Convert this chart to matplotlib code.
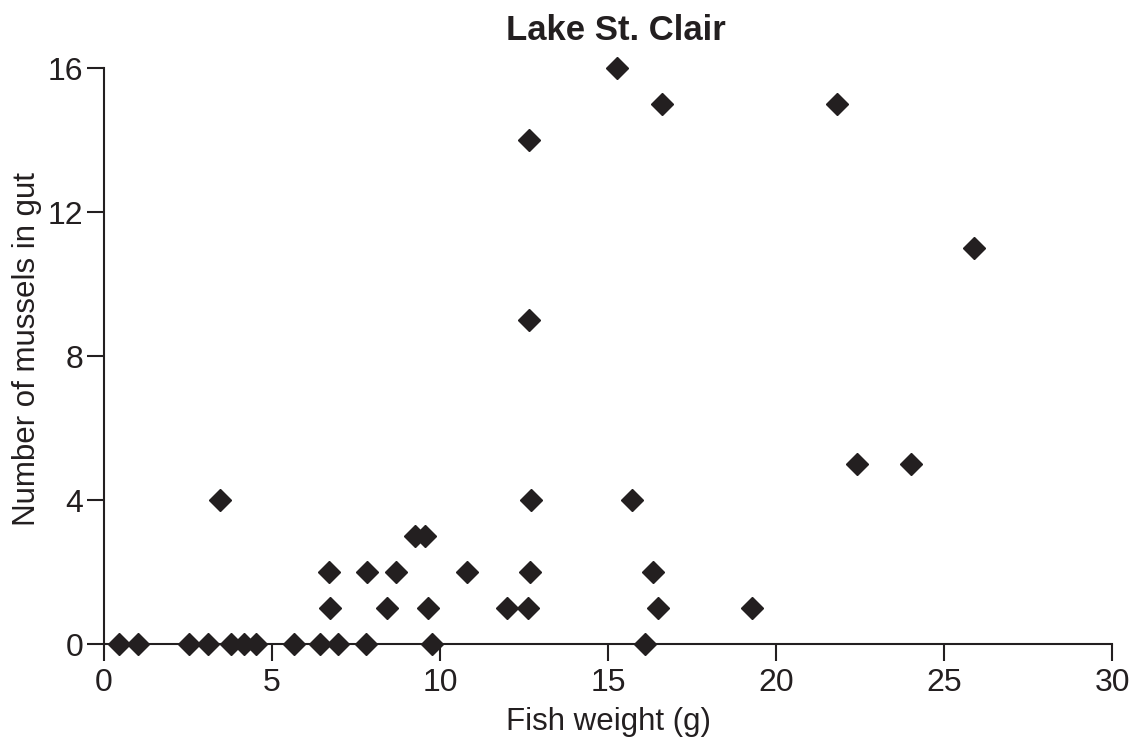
import matplotlib
matplotlib.use('Agg')
import matplotlib.pyplot as plt

# fish weight (g) and mussel count
weight = [0.46, 1.02, 2.53, 3.08, 3.78, 4.16, 4.53, 5.64, 6.44, 6.96, 7.80, 9.75, 16.1,
          3.44,
          9.25, 9.55,
          6.69, 7.84, 8.69, 10.8, 12.67, 16.33,
          6.74, 8.43, 9.65, 11.99, 12.62, 16.48, 19.27,
          12.7, 15.72,
          22.42, 24.03,
          12.66, 25.88,
          12.66, 15.28, 16.6, 21.82]
mussels = [0, 0, 0, 0, 0, 0, 0, 0, 0, 0, 0, 0, 0,
           4,
           3, 3,
           2, 2, 2, 2, 2, 2,
           1, 1, 1, 1, 1, 1, 1,
           4, 4,
           5, 5,
           9, 11,
           14, 16, 15, 15]

xticks = [0, 5, 10, 15, 20, 25, 30]
yticks = [0, 4, 8, 12, 16]

plt.rcParams['font.family'] = ['Liberation Sans', 'DejaVu Sans']
ink = '#231f20'

fig = plt.figure(figsize=(11.38, 7.44), dpi=100)
ax = fig.add_axes([0.0914, 0.1344, 0.8858, 0.7742])

ax.plot(weight, mussels, linestyle='none', marker='D', markersize=10.8,
        color=ink, clip_on=False, zorder=3)

ax.set_xlim(0, 30)
ax.set_ylim(0, 16)
ax.set_xticks(xticks)
ax.set_yticks(yticks)

for s in ['top', 'right']:
    ax.spines[s].set_visible(False)
for s in ['left', 'bottom']:
    ax.spines[s].set_linewidth(1.5)
    ax.spines[s].set_color(ink)

ax.tick_params(direction='out', length=12, width=1.5, color=ink,
               labelsize=23, labelcolor=ink, pad=3)
ax.tick_params(axis='x', pad=5)

ax.set_xlabel('Fish weight (g)', fontsize=22.5, color=ink, labelpad=7)
ax.set_ylabel('Number of mussels in gut', fontsize=22.5, color=ink, labelpad=6)
ax.yaxis.set_label_coords(-0.062, 0.512)
ax.set_title('Lake St. Clair', fontsize=25, fontweight='bold', color=ink,
             pad=20, x=0.508)

fig.savefig('out.png', dpi=100)
